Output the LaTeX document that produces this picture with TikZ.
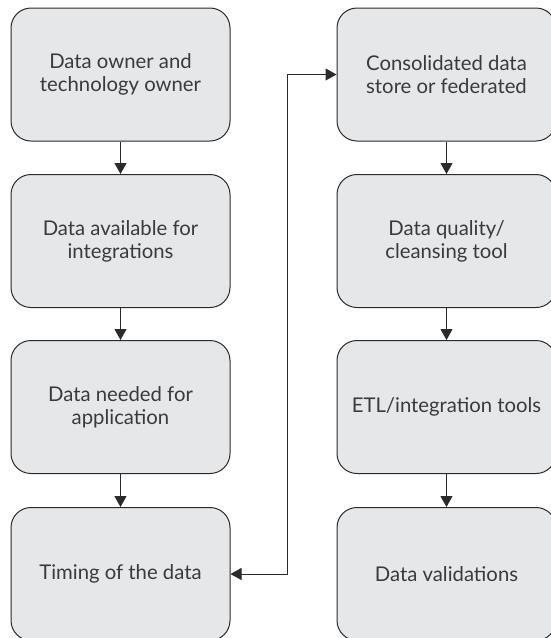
\documentclass[tikz,border=0pt]{standalone}
\usepackage{fontspec}
\setmainfont{Lato}
\usetikzlibrary{arrows.meta}
\definecolor{boxfill}{HTML}{E6E7E9}
\definecolor{ink}{HTML}{2A2A2A}
\definecolor{textink}{HTML}{3A3A3A}
\begin{document}
\begin{tikzpicture}[x=1pt,y=-1pt,
  stepbox/.style={draw=ink, line width=1pt, fill=boxfill, rounded corners=20pt,
    minimum width=219pt, minimum height=133pt, inner sep=0pt,
    align=center, text=textink, font=\fontsize{20.3}{23}\selectfont},
  flow/.style={draw=ink, line width=1pt, -{Triangle[length=11pt,width=12pt]}},
  both/.style={draw=ink, line width=1pt, {Triangle[length=11pt,width=12pt]}-{Triangle[length=11pt,width=12pt]}}]
\useasboundingbox (0,0) rectangle (550,638);
% left column
\node[stepbox] (owner)  at (120.5,74.5) {Data owner and\\technology owner};
\node[stepbox] (avail)  at (120.5,241)  {Data available for\\integrations};
\node[stepbox] (needed) at (120.5,407)  {Data needed for\\application};
\node[stepbox] (timing) at (120.5,574)  {Timing of the data};
% right column
\node[stepbox] (store)  at (446.5,74.5) {Consolidated data\\store or federated};
\node[stepbox] (qual)   at (446.5,241)  {Data quality/\\cleansing tool};
\node[stepbox] (etl)    at (446.5,407)  {ETL/integration tools};
\node[stepbox] (valid)  at (446.5,574)  {Data validations};
% vertical flow
\draw[flow] (owner) -- (avail);
\draw[flow] (avail) -- (needed);
\draw[flow] (needed) -- (timing);
\draw[flow] (store) -- (qual);
\draw[flow] (qual) -- (etl);
\draw[flow] (etl) -- (valid);
% link between the columns
\coordinate (turn) at (287,574);
\draw[both] (timing.east) -- (turn) |- (store.west);
\end{tikzpicture}
\end{document}
